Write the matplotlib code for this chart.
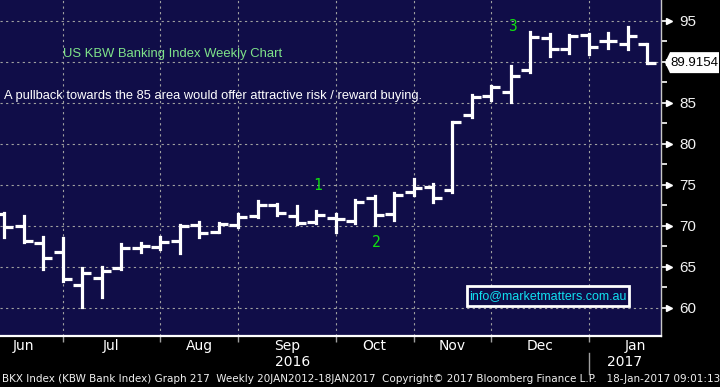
import matplotlib
matplotlib.use('Agg')
import matplotlib.pyplot as plt
import numpy as np
import pandas as pd
from matplotlib.patches import Polygon, Rectangle
from matplotlib.transforms import blended_transform_factory

# ---------------- data ----------------
week_dates = pd.date_range('2016-06-03', periods=34, freq='W-FRI')
opens = [71.40, 69.97, 67.86, 66.76, 62.73, 63.59, 64.81, 67.25, 67.37, 68.14,
         70.10, 69.28, 70.06, 71.19, 72.54, 71.19, 70.50, 70.91, 70.58, 73.36,
         71.44, 74.16, 74.70, 74.37, 83.49, 85.84, 86.30, 88.98, 92.89, 91.55,
         93.29, 92.59, 92.19, 92.19]
highs = [71.52, 71.19, 68.59, 68.47, 64.81, 64.93, 67.78, 67.93, 68.63, 70.10,
         70.43, 70.30, 71.44, 73.02, 72.66, 72.41, 71.80, 71.40, 73.15, 73.64,
         74.04, 75.71, 75.10, 82.71, 85.97, 87.06, 89.51, 93.66, 93.41, 93.29,
         93.41, 93.57, 94.23, 92.19]
lows = [68.67, 68.06, 64.76, 63.30, 60.05, 61.34, 64.69, 66.84, 67.17, 66.62,
        68.67, 69.20, 69.89, 71.03, 71.35, 70.18, 70.38, 69.24, 70.38, 70.10,
        70.71, 73.76, 72.94, 74.16, 83.32, 85.36, 85.15, 88.81, 90.76, 91.06,
        90.93, 91.74, 91.55, 89.84]
closes = [69.82, 68.18, 66.03, 63.47, 64.20, 64.48, 67.25, 67.50, 67.98, 70.03,
          69.08, 70.22, 71.03, 72.54, 71.52, 70.30, 71.32, 70.79, 72.87, 71.28,
          73.72, 74.58, 73.36, 82.63, 85.69, 86.91, 88.25, 93.01, 91.61, 93.20,
          91.79, 92.59, 93.17, 89.9154]
last_price_label = '89.9154'
y_ticks = [60, 65, 70, 75, 80, 85, 90, 95]
wave_labels = ['1', '2', '3']
wave_points = [(16.1, 74.86), (19.08, 68.02), (26.06, 94.27)]
title_text = 'US KBW Banking Index Weekly Chart'
comment_text = 'A pullback towards the 85 area would offer attractive risk / reward buying.'
email_text = 'info@marketmatters.com.au'
footer_text = ('BKX Index (KBW Bank Index) Graph 217  Weekly 20JAN2012-18JAN2017  '
               'Copyright\u00a9 2017 Bloomberg Finance L.P.   18-Jan-2017 09:01:13')

# ---------------- figure ----------------
W, H = 720, 387
NAVY = '#100d48'
fig = plt.figure(figsize=(W / 100, H / 100), dpi=100, facecolor='black')
ax_right_px = 661
ax_bottom_px = 336
ax = fig.add_axes([0, 1 - ax_bottom_px / H, ax_right_px / W, ax_bottom_px / H])
ax.set_facecolor(NAVY)

def fx(px):
    return px / W

def fy(py):
    return 1 - py / H

x = np.arange(len(week_dates))
ax.set_xlim(-0.22, 33.70)
ax.set_ylim(56.55, 97.56)

# month boundaries: last bar of each month
months = week_dates.month
bounds = [i for i in range(len(week_dates) - 1) if months[i] != months[i + 1]]

# grid
grid_kw = dict(color='#a0a0a0', lw=0.8, linestyle=(0, (2, 3)), zorder=1)
for b in bounds:
    ax.axvline(b, **grid_kw)
for yt in y_ticks:
    ax.axhline(yt, **grid_kw)

# OHLC bars
tick_len = 0.46
lw = 2.3
ax.vlines(x, lows, highs, color='white', lw=lw, zorder=3, capstyle='projecting')
ax.hlines(opens, x - tick_len, x, color='white', lw=lw, zorder=3)
ax.hlines(closes, x, x + tick_len, color='white', lw=lw, zorder=3)

# spines
for s in ['top', 'left']:
    ax.spines[s].set_visible(False)
ax.spines['bottom'].set_color('white')
ax.spines['bottom'].set_linewidth(1.6)
ax.spines['right'].set_color('#c8c8c8')
ax.spines['right'].set_linewidth(1.0)

# y axis on right (label at the last-price level is hidden behind the flag)
yp = closes[-1]
ax.yaxis.tick_right()
ax.set_yticks(y_ticks)
ax.set_yticklabels(['' if abs(v - yp) < 1.5 else str(v) for v in y_ticks])
ax.set_yticks([v + 2.5 for v in y_ticks[:-1]], minor=True)
ax.tick_params(axis='y', which='major', length=5, width=1.2, color='white',
               labelcolor='#f2f2f2', labelsize=11, pad=8)
ax.tick_params(axis='y', which='minor', length=4, width=1.2, color='white')
for lab in ax.get_yticklabels():
    lab.set_fontfamily('Liberation Sans')
trans = blended_transform_factory(ax.transAxes, ax.transData)
ax.plot([1.0125] * len(y_ticks), y_ticks, marker='>', ls='none', color='white',
        ms=5, clip_on=False, transform=trans, zorder=5)

# x axis ticks
ax.set_xticks(bounds)
ax.set_xticklabels([])
ax.tick_params(axis='x', which='major', length=4, width=1, color='#a0a0a0', direction='out')

# last price flag
pt = ax.transData.transform((0, yp))
ypix = H - pt[1]
flag = Polygon([(fx(665), fy(ypix)), (fx(670), fy(ypix - 10.5)), (fx(719), fy(ypix - 10.5)),
                (fx(719), fy(ypix + 10.5)), (fx(670), fy(ypix + 10.5))],
               closed=True, transform=fig.transFigure, facecolor='white',
               edgecolor='none', zorder=10)
fig.patches.append(flag)
fig.text(fx(694), fy(ypix), last_price_label, color='black', fontsize=9.5,
         family='Liberation Sans', ha='center', va='center', zorder=11)

# month labels
month_names = [d.strftime('%b') for d in week_dates]
edges = [-1] + bounds + [34]
month_pos = [(edges[k] + edges[k + 1]) / 2 for k in range(len(edges) - 1)]
month_pos[-1] += 0.4
month_list = []
for i, m in enumerate(month_names):
    if not month_list or month_list[-1] != m:
        month_list.append(m)
for name, pos in zip(month_list, month_pos):
    xp = ax.transData.transform((pos, 0))[0]
    fig.text(xp / W, fy(346), name, color='white', fontsize=10,
             family='DejaVu Sans', ha='center', va='center')

# year labels
fig.text(fx(293), fy(362), '2016', color='white', fontsize=10, family='DejaVu Sans',
         ha='center', va='center')
fig.text(fx(625), fy(362), '2017', color='white', fontsize=10, family='DejaVu Sans',
         ha='center', va='center')
xsep = ax.transData.transform((bounds[-1], 0))[0]
fig.add_artist(plt.Line2D([xsep / W, xsep / W], [fy(353), fy(374)], color='#a0a0a0', lw=1))

# footer
fig.text(fx(2), fy(379), footer_text, color='#f0f0f0', fontsize=7.5,
         family='DejaVu Sans', ha='left', va='center')

# annotations
fig.text(fx(63), fy(54), title_text, color='#7fe38a', fontsize=9.4,
         family='Liberation Sans', ha='left', va='center')
fig.text(fx(4), fy(96), comment_text, color='white', fontsize=9.3,
         family='Liberation Sans', ha='left', va='center')
for lab, (px_, py_) in zip(wave_labels, wave_points):
    ax.text(px_, py_, lab, color='#10e010', fontsize=10.5, family='DejaVu Sans Mono',
            ha='center', va='center', zorder=6)

# email box
box = Rectangle((fx(467), fy(306)), fx(629) - fx(467), fy(286) - fy(306),
                transform=fig.transFigure, facecolor=NAVY, edgecolor='white',
                lw=2, zorder=8)
fig.patches.append(box)
fig.text(fx(548), fy(296.5), email_text, color='#10e0f0', fontsize=9.0,
         family='Liberation Sans', ha='center', va='center', zorder=9)

fig.savefig('out.png', dpi=100, facecolor='black')
